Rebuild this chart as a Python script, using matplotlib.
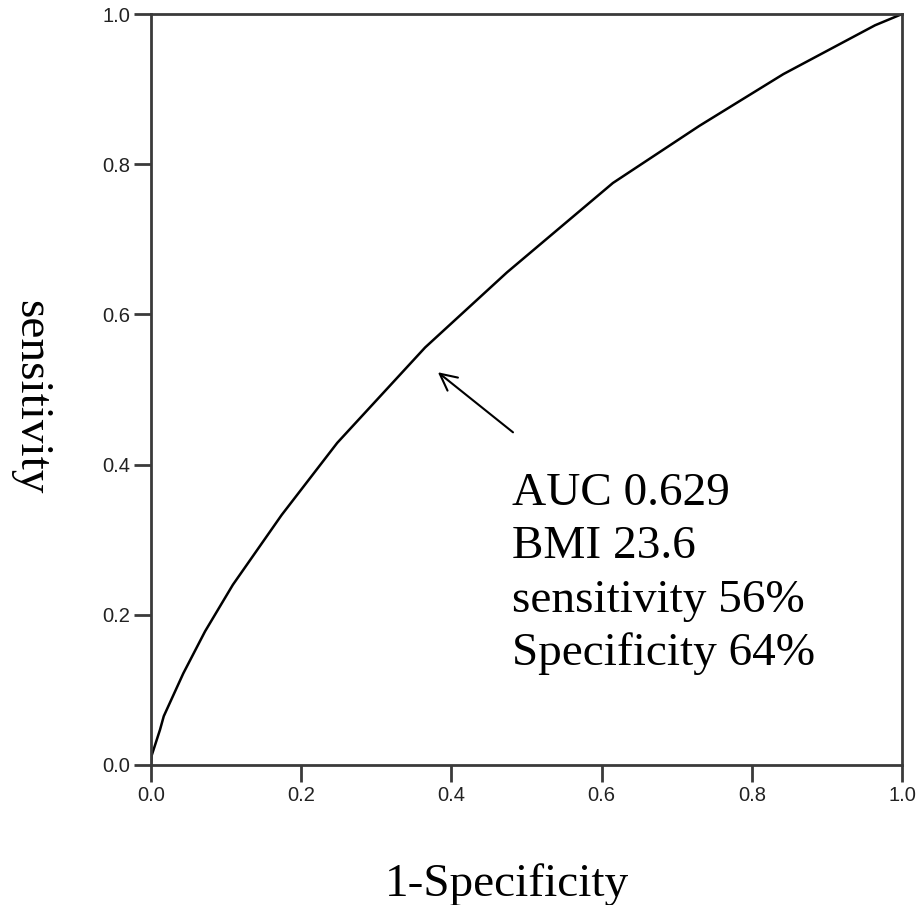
import numpy as np
import matplotlib.pyplot as plt

# ROC curve points (1-specificity, sensitivity)
fpr = [0.0, 0.001, 0.012, 0.017, 0.043, 0.072, 0.109, 0.174, 0.248, 0.365,
       0.474, 0.615, 0.730, 0.842, 0.964, 1.0]
tpr = [0.0, 0.013, 0.047, 0.065, 0.122, 0.178, 0.240, 0.333, 0.429, 0.556,
       0.656, 0.775, 0.851, 0.920, 0.985, 1.0]

ticks = [0.0, 0.2, 0.4, 0.6, 0.8, 1.0]
note_lines = ['AUC 0.629', 'BMI 23.6', 'sensitivity 56%', 'Specificity 64%']
arrow_head = (0.382, 0.523)
arrow_tail = (0.482, 0.443)

fig = plt.figure(figsize=(9.23, 9.05), dpi=100)
ax = fig.add_axes([0.1636, 0.1547, 0.8137, 0.8298])

ax.plot(fpr, tpr, color='black', lw=1.8, solid_joinstyle='miter')
ax.set_xlim(0, 1)
ax.set_ylim(0, 1)
ax.set_xticks(ticks)
ax.set_yticks(ticks)
ax.set_xticklabels([f'{t:.1f}' for t in ticks])
ax.set_yticklabels([f'{t:.1f}' for t in ticks])

for s in ax.spines.values():
    s.set_color('#3a3a3a')
    s.set_linewidth(2.0)
ax.tick_params(direction='out', length=12, width=2, color='#3a3a3a',
               labelsize=14.5, labelcolor='#222222', pad=3)
for lab in ax.get_xticklabels() + ax.get_yticklabels():
    lab.set_family('Liberation Sans')

ax.set_xlabel('1-Specificity', family='Liberation Serif', fontsize=34, va='baseline')
ax.xaxis.set_label_coords(0.474, -0.174)
ax.set_ylabel('sensitivity', family='Liberation Serif', fontsize=34,
              rotation=270, va='center', ha='center')
ax.yaxis.set_label_coords(-0.161, 0.49)

ax.annotate('', xy=arrow_head, xytext=arrow_tail,
            arrowprops=dict(arrowstyle='->', color='black', lw=1.5,
                            mutation_scale=30, shrinkA=0, shrinkB=0))

for i, line in enumerate(note_lines):
    ax.text(0.481, 0.346 - i * 0.0709, line, family='Liberation Serif',
            fontsize=34, va='baseline', ha='left', transform=ax.transAxes)

fig.savefig('out.png', dpi=100)
